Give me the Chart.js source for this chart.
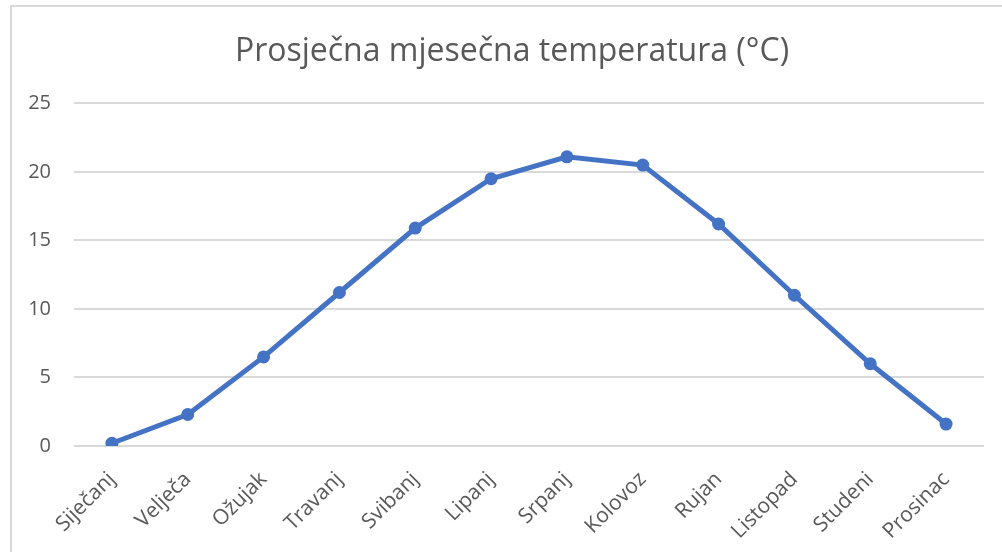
<!DOCTYPE html>
<html>
<head>
<meta charset="utf-8">
<script src="https://cdn.jsdelivr.net/npm/chart.js@4/dist/chart.umd.min.js"></script>
<style>
  html, body { margin: 0; padding: 0; background: #fff; overflow: hidden; }
  #frame { position: absolute; left: 10px; top: 5px; width: 1000px; height: 600px; border: 2px solid #d9d9d9; box-sizing: border-box; }
  #wrap { position: absolute; left: 0; top: 0; width: 1024px; height: 552px; }
</style>
</head>
<body>
<div id="frame"></div>
<div id="wrap"><canvas id="temp-chart"></canvas></div>
<script>
// months (Croatian) and average temperatures
const months = ["Siječanj", "Velječa", "Ožujak", "Travanj", "Svibanj", "Lipanj", "Srpanj", "Kolovoz", "Rujan", "Listopad", "Studeni", "Prosinac"];
const avgTemp = [0.2, 2.3, 6.5, 11.2, 15.9, 19.5, 21.1, 20.5, 16.2, 11.0, 6.0, 1.6];
const yTicks = [0, 5, 10, 15, 20, 25];

const grey = "#595959";
const font = "'Open Sans', sans-serif";

// canvas is 1024 wide so the title centres at x=512 like the original,
// an empty right axis keeps the plot ending at x=984
new Chart("temp-chart", {
    type: "line",
    data: {
        labels: months,
        datasets: [{
            label: "Prosječna temperatura",
            data: avgTemp,
            borderColor: "#4472c4",
            backgroundColor: "#4472c4",
            borderWidth: 5,
            pointRadius: 6.5,
            pointBorderWidth: 0,
            tension: 0,
            fill: false
        }]
    },
    options: {
        responsive: true,
        maintainAspectRatio: false,
        animation: false,
        layout: { padding: 0 },
        plugins: {
            legend: { display: false },
            tooltip: { enabled: false },
            title: {
                display: true,
                text: "Prosječna mjesečna temperatura (°C)",
                color: grey,
                font: { family: font, size: 32, weight: "normal", lineHeight: 1.2 },
                padding: { top: 33, bottom: 32 }
            }
        },
        scales: {
            x: {
                offset: true,
                grid: { display: false },
                border: { display: false },
                ticks: {
                    color: grey,
                    font: { family: font, size: 21 },
                    maxRotation: 45,
                    minRotation: 45,
                    padding: 13
                },
                afterFit: function(scale) { scale.height = 106; }
            },
            y: {
                min: 0,
                max: 25,
                grid: { color: "#d9d9d9", lineWidth: 2, drawTicks: false },
                border: { display: false },
                afterBuildTicks: function(scale) {
                    scale.ticks = yTicks.map(v => ({ value: v }));
                },
                ticks: {
                    color: grey,
                    font: { family: font, size: 20 },
                    padding: 23
                },
                afterFit: function(scale) { scale.width = 74; }
            },
            spacer: {
                type: "linear",
                position: "right",
                grid: { display: false },
                border: { display: false },
                ticks: { display: false },
                afterFit: function(scale) { scale.width = 40; }
            }
        }
    }
});
</script>
</body>
</html>
